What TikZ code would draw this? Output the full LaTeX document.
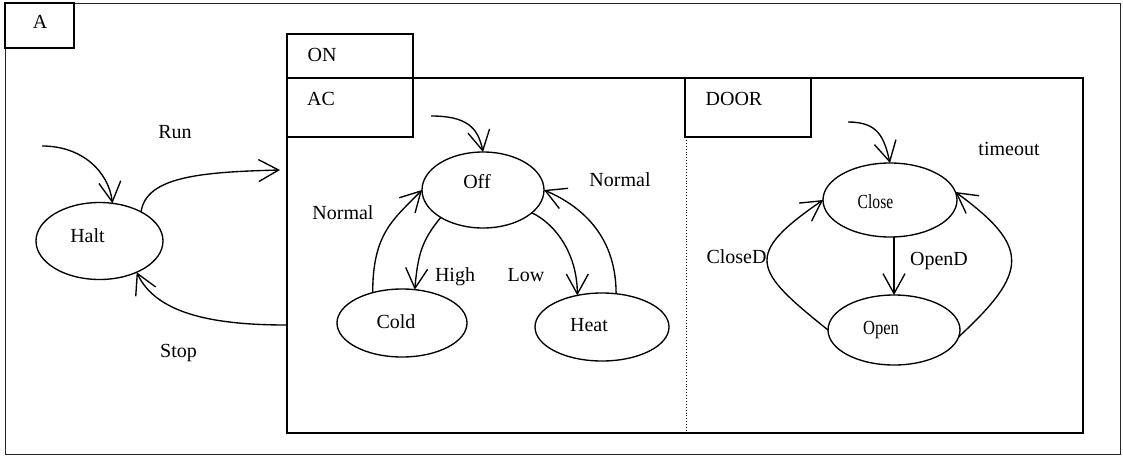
\documentclass[tikz,border=0pt]{standalone}
\usepackage{fontspec}
\setmainfont{Liberation Serif}
\usepackage{graphicx}
\usetikzlibrary{shapes.geometric,arrows.meta}
\newcommand{\lifttext}[3]{\raisebox{#1}[0pt][0pt]{\makebox[0pt]{\hspace*{#2}\hspace*{#2}#3}}}
\tikzset{
  state/.style={ellipse, draw, line width=1.35pt, inner sep=0pt, outer sep=0pt},
  tab/.style={rectangle, draw, line width=1.35pt, inner sep=0pt, outer sep=0pt, anchor=north west},
  lbl/.style={inner sep=0pt, anchor=base},
  tr/.style={line width=1.35pt, -{Straight Barb[length=20pt, width=22pt, line width=1.35pt]}},
}
\begin{document}
\begin{tikzpicture}[x=1pt, y=-1pt, font=\fontsize{20}{24}\selectfont]
\useasboundingbox (0,0) rectangle (1123,455);
% outer frame
\node[rectangle, draw=black!85, line width=1.4pt, inner sep=0pt, minimum width=1115pt, minimum height=451pt, anchor=north west] (frame) at (5,2.5) {};
\node[tab, minimum width=69pt, minimum height=45pt] (tabA) at (5,3) {\lifttext{-2.5pt}{0.5pt}{A}};
% ON composite
\node[tab, minimum width=796pt, minimum height=355pt] (onbox) at (287,78) {};
\node[tab, minimum width=126pt, minimum height=44pt] (tabON) at (287,34) {\lifttext{-5pt}{-28pt}{ON}};
\node[tab, minimum width=126pt, minimum height=59pt] (tabAC) at (287,78) {\lifttext{2.5pt}{-29pt}{AC}};
\node[tab, minimum width=126pt, minimum height=59pt] (tabDOOR) at (685,78) {\lifttext{2.5pt}{-14pt}{DOOR}};
\draw[line width=0.9pt, dotted] (tabDOOR.south west) ++(1,0) coordinate (dtop) -- (dtop |- onbox.south);
% states
\node[state, minimum width=127pt, minimum height=77pt] (halt) at (99.5,241) {\lifttext{-1pt}{-12pt}{Halt}};
\node[state, minimum width=122pt, minimum height=76pt] (off) at (483,190) {\lifttext{2pt}{-6pt}{Off}};
\node[state, minimum width=130pt, minimum height=68pt] (cold) at (402,323) {\lifttext{-5pt}{-6pt}{Cold}};
\node[state, minimum width=134pt, minimum height=68pt] (heat) at (602,327) {\lifttext{-4pt}{-13pt}{Heat}};
\node[state, minimum width=134pt, minimum height=74pt] (close) at (890,200) {\lifttext{-8pt}{-14.5pt}{\scalebox{0.78}[1]{Close}}};
\node[state, minimum width=132pt, minimum height=70pt] (open) at (894,330) {\lifttext{-4pt}{-13pt}{\scalebox{0.83}[1]{Open}}};
% free ends
\coordinate (hinit) at (42,146);
\coordinate (runend) at (280,170);
\coordinate (stopstart) at (287,325);
\coordinate (offinit) at (431,116);
\coordinate (closeinit) at (848,122);
% transitions
\draw[tr] (hinit) .. controls +(40,0) and +(-4,-32) .. (halt.71);
\draw[tr] (halt.35) .. controls +(5,-35) and +(-80,2) .. (runend);
\draw[tr] (stopstart) .. controls +(-70,0) and +(20,43) .. (halt.-40);
\draw[tr] (offinit) .. controls +(35,0) and +(-5,-25) .. (off.90);
\draw[tr] (cold.134) .. controls +(0,-60) and +(-28,29) .. (off.180);
\draw[tr] (off.-147) .. controls +(-19,23) and +(3,-35) .. (cold.69);
\draw[tr] (off.-25) .. controls +(25,12) and +(0,-40) .. (heat.128);
\draw[tr] (heat.67.5) .. controls +(0,-60) and +(35,15) .. (off.0);
\draw[tr] (closeinit) .. controls +(30,0) and +(-6,-26) .. (close.90);
\draw[tr] (open.north |- close.south) -- (open.north);
\draw[tr] (open.180) .. controls +(-75,-60) and +(-80,55) .. (close.180);
\draw[tr] (open.-6) .. controls +(70,-65) and +(75,55) .. (close.7);
% labels
\node[lbl] (lrun) at (175,138) {Run};
\node[lbl] (lstop) at (178.5,357) {Stop};
\node[lbl] (lnorm1) at (343,219) {Normal};
\node[lbl] (lhigh) at (455,281) {High};
\node[lbl] (llow) at (526,281) {Low};
\node[lbl] (lnorm2) at (620,186) {Normal};
\node[lbl] (ltime) at (1009,155) {timeout};
\node[lbl] (lclosed) at (736.5,263) {CloseD};
\node[lbl] (lopend) at (939,265) {OpenD};
\end{tikzpicture}
\end{document}
